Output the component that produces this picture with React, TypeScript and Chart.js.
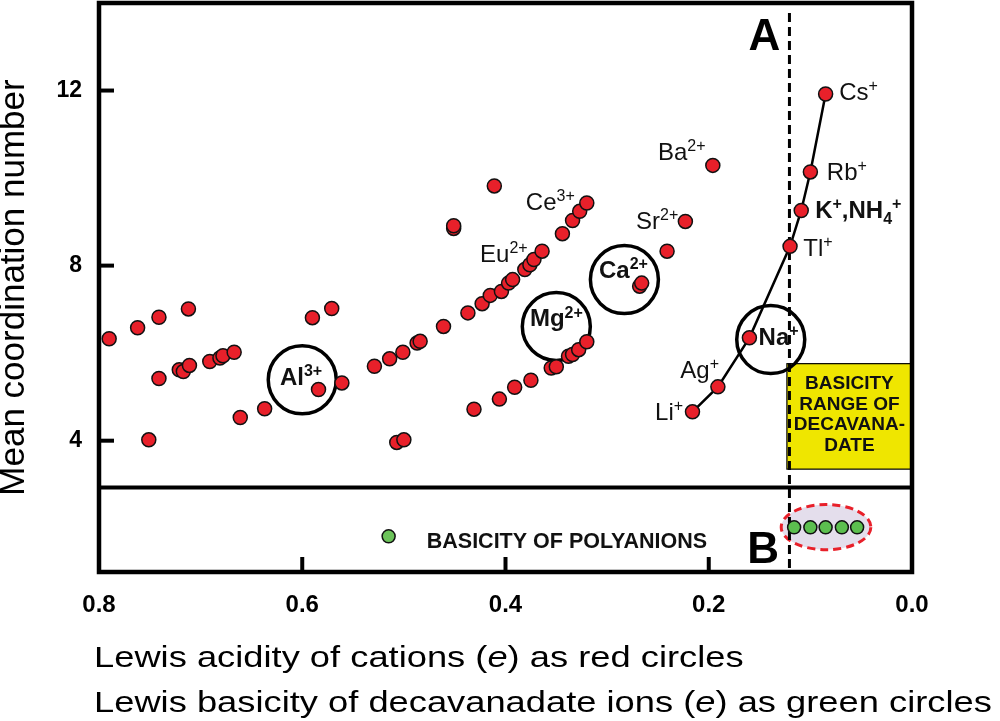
import React, { useEffect, useRef } from 'react';
import { Chart, registerables } from 'chart.js';
Chart.register(...registerables);

const FONT = "'Liberation Sans', Arial, Helvetica, sans-serif";

// Lewis acidity (x) vs mean coordination number (y) of cations (red circles)
const cationPoints = [
  [0.790, 6.33], [0.762, 6.58], [0.741, 6.82], [0.712, 7.01],
  [0.741, 5.42], [0.721, 5.62], [0.717, 5.58], [0.711, 5.72], [0.691, 5.81], [0.681, 5.89], [0.678, 5.94], [0.667, 6.02],
  [0.751, 4.02], [0.661, 4.53], [0.637, 4.73],
  [0.590, 6.81], [0.571, 7.02], [0.584, 5.17], [0.561, 5.32],
  [0.529, 5.70], [0.514, 5.87], [0.501, 6.02], [0.487, 6.23], [0.484, 6.27], [0.461, 6.61], [0.437, 6.92],
  [0.423, 7.13], [0.415, 7.32], [0.404, 7.41], [0.397, 7.60], [0.393, 7.68], [0.381, 7.91], [0.376, 8.02],
  [0.372, 8.14], [0.364, 8.33], [0.344, 8.73], [0.334, 9.03], [0.327, 9.24], [0.320, 9.43],
  [0.411, 9.82], [0.451, 8.85], [0.451, 8.91],
  [0.507, 3.96], [0.500, 4.02],
  [0.431, 4.72], [0.406, 4.95], [0.391, 5.22], [0.375, 5.38], [0.355, 5.66], [0.350, 5.69],
  [0.338, 5.93], [0.334, 5.97], [0.328, 6.08], [0.320, 6.26],
  [0.268, 7.53], [0.266, 7.60],
  [0.241, 8.33], [0.223, 9.01],
  [0.196, 10.29],
];

// Li+, Ag+, Na+, Tl+, K+/NH4+, Rb+, Cs+ (connected)
const monovalentSeries = [
  [0.216, 4.66], [0.191, 5.23], [0.160, 6.35], [0.120, 8.44], [0.109, 9.26], [0.100, 10.14], [0.085, 11.92],
];

// highlighted ions (Al3+, Mg2+, Ca2+, Na+)
const circledIons = [
  [0.600, 5.39], [0.350, 6.61], [0.283, 7.68], [0.139, 6.31],
];

// Lewis basicity of decavanadate ions (green circles)
const decavanadatePoints = [
  [0.116, 2.02], [0.100, 2.02], [0.085, 2.02], [0.069, 2.02], [0.054, 2.02],
];

const xTickValues = [0.8, 0.6, 0.4, 0.2, 0.0];
const xTickLabels = ['0.8', '0.6', '0.4', '0.2', '0.0'];
const yTickValues = [4, 8, 12];
const yTickLabels = ['4', '8', '12'];

const panelDivider = 2.93;
const decavanadateLimit = 0.1206;
const basicityBox = { x0: 0.1231, x1: 0.0, y0: 3.35, y1: 5.76 };
const basicityEllipse = { x0: 0.1287, x1: 0.0405, y0: 1.51, y1: 2.54 };

type Part = [string, 'n' | 'sup' | 'sub'];
const ionLabels: { x: number; y: number; bold: boolean; parts: Part[] }[] = [
  { x: 0.380, y: 9.27, bold: false, parts: [['Ce', 'n'], ['3+', 'sup']] },
  { x: 0.425, y: 8.09, bold: false, parts: [['Eu', 'n'], ['2+', 'sup']] },
  { x: 0.2715, y: 8.84, bold: false, parts: [['Sr', 'n'], ['2+', 'sup']] },
  { x: 0.250, y: 10.42, bold: false, parts: [['Ba', 'n'], ['2+', 'sup']] },
  { x: 0.228, y: 5.43, bold: false, parts: [['Ag', 'n'], ['+', 'sup']] },
  { x: 0.2528, y: 4.48, bold: false, parts: [['Li', 'n'], ['+', 'sup']] },
  { x: 0.0717, y: 11.79, bold: false, parts: [['Cs', 'n'], ['+', 'sup']] },
  { x: 0.0838, y: 9.96, bold: false, parts: [['Rb', 'n'], ['+', 'sup']] },
  { x: 0.107, y: 8.22, bold: false, parts: [['Tl', 'n'], ['+', 'sup']] },
  { x: 0.0953, y: 9.08, bold: true, parts: [['K', 'n'], ['+', 'sup'], [',NH', 'n'], ['4', 'sub'], ['+', 'sup']] },
  { x: 0.622, y: 5.28, bold: true, parts: [['Al', 'n'], ['3+', 'sup']] },
  { x: 0.376, y: 6.61, bold: true, parts: [['Mg', 'n'], ['2+', 'sup']] },
  { x: 0.308, y: 7.71, bold: true, parts: [['Ca', 'n'], ['2+', 'sup']] },
  { x: 0.151, y: 6.19, bold: true, parts: [['Na', 'n'], ['+', 'sup']] },
];

const boxLines = ['BASICITY', 'RANGE OF', 'DECAVANA-', 'DATE'];
const legendText = 'BASICITY OF POLYANIONS';
const legendPos = { dotX: 0.515, dotY: 1.815, textX: 0.4775, textY: 1.55 };
const panelLetters = [
  { text: 'A', x: 0.161, y: 12.93 },
  { text: 'B', x: 0.162, y: 1.21 },
];
const yTitle = 'Mean coordination number';
const xTitleLines: [string, string, string][] = [
  ['Lewis acidity of cations (', 'e', ') as red circles'],
  ['Lewis basicity of decavanadate ions (', 'e', ') as green circles'],
];

const RED = '#e8202a';
const GREEN = '#5cbf4f';

function drawRich(ctx: CanvasRenderingContext2D, x: number, y: number, parts: Part[], size: number, weight: string) {
  let cx = x;
  for (const [t, kind] of parts) {
    const s = kind === 'n' ? size : Math.round(size * 0.68);
    const dy = kind === 'sup' ? -size * 0.37 : kind === 'sub' ? size * 0.22 : 0;
    ctx.font = `${weight} ${s}px ${FONT}`;
    ctx.fillText(t, cx, y + dy);
    cx += ctx.measureText(t).width;
  }
}

const decorPlugin = {
  id: 'decor',
  beforeDatasetsDraw(chart: any) {
    const { ctx, chartArea: a, scales } = chart;
    const xs = scales.x, ys = scales.y;
    ctx.save();
    // yellow box
    const bx0 = xs.getPixelForValue(basicityBox.x0), bx1 = xs.getPixelForValue(basicityBox.x1);
    const by0 = ys.getPixelForValue(basicityBox.y1), by1 = ys.getPixelForValue(basicityBox.y0);
    ctx.fillStyle = '#efe600';
    ctx.fillRect(bx0, by0, bx1 - bx0, by1 - by0);
    ctx.strokeStyle = '#000';
    ctx.lineWidth = 1.2;
    ctx.strokeRect(bx0, by0, bx1 - bx0, by1 - by0);
    // ellipse
    const ex0 = xs.getPixelForValue(basicityEllipse.x0), ex1 = xs.getPixelForValue(basicityEllipse.x1);
    const ey0 = ys.getPixelForValue(basicityEllipse.y1), ey1 = ys.getPixelForValue(basicityEllipse.y0);
    ctx.beginPath();
    ctx.ellipse((ex0 + ex1) / 2, (ey0 + ey1) / 2, (ex1 - ex0) / 2, (ey1 - ey0) / 2, 0, 0, Math.PI * 2);
    ctx.fillStyle = '#e4deec';
    ctx.fill();
    ctx.setLineDash([8, 5]);
    ctx.strokeStyle = RED;
    ctx.lineWidth = 3;
    ctx.stroke();
    // dashed vertical line
    const dx = xs.getPixelForValue(decavanadateLimit);
    ctx.beginPath();
    ctx.setLineDash([9, 5]);
    ctx.strokeStyle = '#000';
    ctx.lineWidth = 3;
    ctx.moveTo(dx, ys.getPixelForValue(13.77));
    ctx.lineTo(dx, a.bottom);
    ctx.stroke();
    ctx.setLineDash([]);
    // divider
    const dy = ys.getPixelForValue(panelDivider);
    ctx.beginPath();
    ctx.lineWidth = 4;
    ctx.moveTo(a.left, dy);
    ctx.lineTo(a.right, dy);
    ctx.stroke();
    // frame
    ctx.lineWidth = 4.5;
    ctx.strokeRect(a.left, a.top, a.right - a.left, a.bottom - a.top);
    // ticks inside
    ctx.lineWidth = 4;
    for (const v of yTickValues) {
      const py = ys.getPixelForValue(v);
      ctx.beginPath();
      ctx.moveTo(a.left, py);
      ctx.lineTo(a.left + 15, py);
      ctx.stroke();
    }
    for (const v of xTickValues) {
      const px = xs.getPixelForValue(v);
      if (px <= a.left + 2 || px >= a.right - 2) continue;
      ctx.beginPath();
      ctx.moveTo(px, a.bottom);
      ctx.lineTo(px, a.bottom - 15);
      ctx.stroke();
    }
    ctx.restore();
  },
  afterDatasetsDraw(chart: any) {
    const { ctx, scales } = chart;
    const xs = scales.x, ys = scales.y;
    ctx.save();
    ctx.fillStyle = '#111';
    ctx.textAlign = 'left';
    ctx.textBaseline = 'alphabetic';
    for (const l of ionLabels) {
      drawRich(ctx, xs.getPixelForValue(l.x), ys.getPixelForValue(l.y), l.parts, 24, l.bold ? 'bold' : 'normal');
    }
    // box text
    const bx0 = xs.getPixelForValue(basicityBox.x0), bx1 = xs.getPixelForValue(basicityBox.x1);
    const by0 = ys.getPixelForValue(basicityBox.y1);
    ctx.font = `bold 19px ${FONT}`;
    ctx.textAlign = 'center';
    ctx.textBaseline = 'middle';
    boxLines.forEach((t, i) => ctx.fillText(t, (bx0 + bx1) / 2, by0 + 20 + i * 20.7));
    // legend
    ctx.beginPath();
    ctx.arc(xs.getPixelForValue(legendPos.dotX), ys.getPixelForValue(legendPos.dotY), 6.5, 0, Math.PI * 2);
    ctx.fillStyle = '#6cc35a';
    ctx.fill();
    ctx.lineWidth = 1.5;
    ctx.strokeStyle = '#111';
    ctx.stroke();
    ctx.fillStyle = '#111';
    ctx.textAlign = 'left';
    ctx.textBaseline = 'alphabetic';
    ctx.font = `bold 21.5px ${FONT}`;
    ctx.fillText(legendText, xs.getPixelForValue(legendPos.textX), ys.getPixelForValue(legendPos.textY));
    // panel letters
    ctx.fillStyle = '#000';
    ctx.font = `bold 44px ${FONT}`;
    for (const p of panelLetters) ctx.fillText(p.text, xs.getPixelForValue(p.x), ys.getPixelForValue(p.y));
    // x title (two lines)
    const baselines = [666.7, 711.7];
    xTitleLines.forEach((parts, i) => {
      ctx.save();
      ctx.translate(94, baselines[i]);
      ctx.scale(1.21, 1);
      let cx = 0;
      parts.forEach((t, j) => {
        ctx.font = `${j === 1 ? 'italic ' : ''}30px ${FONT}`;
        ctx.fillText(t, cx, 0);
        cx += ctx.measureText(t).width;
      });
      ctx.restore();
    });
    ctx.restore();
  },
};

export default function App() {
  const ref = useRef<HTMLCanvasElement | null>(null);
  useEffect(() => {
    if (!ref.current) return;
    const toXY = (arr: number[][]) => arr.map(([x, y]) => ({ x, y }));
    const chart = new Chart(ref.current, {
      type: 'scatter',
      data: {
        datasets: [
          {
            label: 'Cations',
            data: toXY(cationPoints),
            pointRadius: 7,
            pointBackgroundColor: RED,
            pointBorderColor: '#111',
            pointBorderWidth: 1.5,
          },
          {
            label: 'Decavanadate',
            data: toXY(decavanadatePoints),
            pointRadius: 6.5,
            pointBackgroundColor: GREEN,
            pointBorderColor: '#111',
            pointBorderWidth: 1.5,
          },
          {
            label: 'Monovalent',
            data: toXY(monovalentSeries),
            showLine: true,
            borderColor: '#000',
            borderWidth: 2.5,
            pointRadius: 7,
            pointBackgroundColor: RED,
            pointBorderColor: '#111',
            pointBorderWidth: 1.5,
          },
          {
            label: 'Highlighted',
            data: toXY(circledIons),
            pointRadius: 34,
            pointBackgroundColor: 'rgba(0,0,0,0)',
            pointBorderColor: '#000',
            pointBorderWidth: 3.5,
          },
        ],
      },
      options: {
        responsive: false,
        animation: false,
        events: [],
        layout: { autoPadding: false, padding: { top: 3, right: 88, left: 0, bottom: 0 } },
        plugins: { legend: { display: false }, tooltip: { enabled: false } },
        scales: {
          x: {
            type: 'linear',
            min: 0,
            max: 0.8,
            reverse: true,
            grid: { display: false, drawTicks: false },
            border: { display: false },
            afterBuildTicks: (s: any) => { s.ticks = xTickValues.map((v) => ({ value: v })); },
            afterFit: (s: any) => { s.height = 149; s.paddingLeft = 0; s.paddingRight = 0; },
            ticks: {
              padding: 19,
              color: '#000',
              font: { family: FONT, size: 24, weight: 'bold' },
              callback: (v: any) => xTickLabels[xTickValues.findIndex((t) => Math.abs(t - v) < 1e-6)] ?? '',
            },
            title: { display: false },
          },
          y: {
            type: 'linear',
            min: 1,
            max: 14,
            grid: { display: false, drawTicks: false },
            border: { display: false },
            afterBuildTicks: (s: any) => { s.ticks = yTickValues.map((v) => ({ value: v })); },
            afterFit: (s: any) => { s.width = 99; s.paddingTop = 0; s.paddingBottom = 0; },
            ticks: {
              padding: 17,
              color: '#000',
              font: { family: FONT, size: 23, weight: 'bold' },
              callback: (v: any) => yTickLabels[yTickValues.indexOf(v)] ?? '',
            },
            title: {
              display: true,
              text: yTitle,
              color: '#000',
              font: { family: FONT, size: 35, lineHeight: 1 },
              padding: { top: -3, bottom: 0 },
            },
          },
        },
      },
      plugins: [decorPlugin],
    } as any);
    return () => chart.destroy();
  }, []);
  return (
    <div style={{ position: 'absolute', left: 0, top: 0, width: 1000, height: 721, background: '#fff' }}>
      <canvas ref={ref} width={1000} height={721} />
    </div>
  );
}
